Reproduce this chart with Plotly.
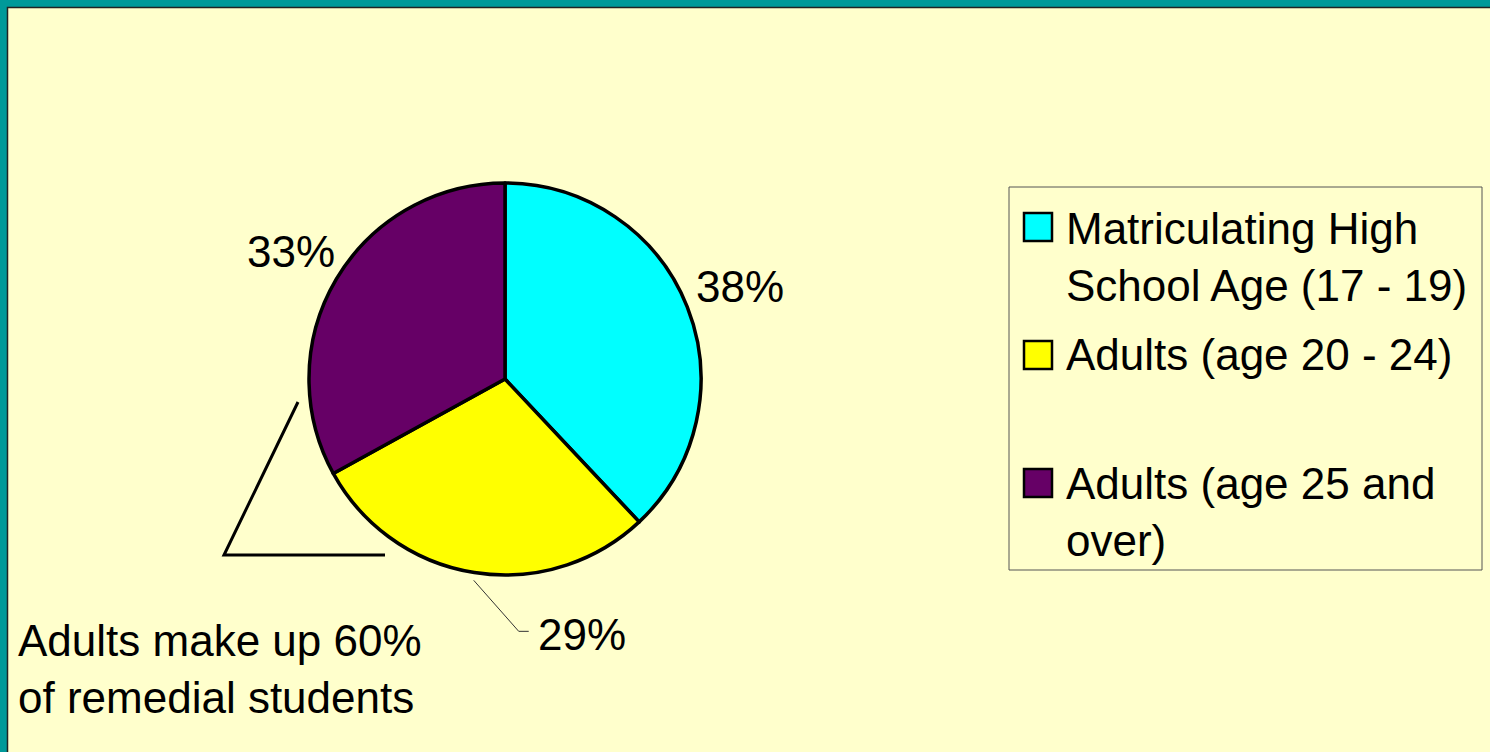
import math
import plotly.graph_objects as go

# ---- data ----
categories = ["Matriculating High<br>School Age (17 - 19)", "Adults (age 20 - 24)", "Adults (age 25 and<br>over)"]
values = [38, 29, 33]
colors = ["#00FFFF", "#FFFF00", "#660066"]
note_text = "Adults make up 60%<br>of remedial students"

W, H = 1490, 752
FONT = "Liberation Sans, Arial, sans-serif"
FS = 44


def px(x):
    return x / W


def py(y):
    return 1 - y / H


# pie geometry (pixels)
CX, CY, R = 505, 379, 196

fig = go.Figure()
fig.add_trace(go.Pie(
    labels=categories,
    values=values,
    marker=dict(colors=colors, line=dict(color="black", width=3.5)),
    sort=False,
    direction="clockwise",
    rotation=0,
    textinfo="none",
    hoverinfo="label+percent",
    showlegend=False,
    domain=dict(x=[px(CX - R), px(CX + R)], y=[py(CY + R), py(CY - R)]),
))

annotations = []
shapes = []

# percent labels placed from data angles
total = sum(values)
cum = 0
label_style = ["plain", "leader", "plain"]
for v, style in zip(values, label_style):
    mid = (cum + v / 2) / total * 2 * math.pi
    cum += v
    pct = f"{round(v / total * 100)}%"
    if style == "plain":
        rr = R * 1.28
        lx = CX + rr * math.sin(mid)
        ly = CY - rr * math.cos(mid)
        annotations.append(dict(x=px(lx + 2), y=py(ly), xref="paper", yref="paper", text=pct,
                                xanchor="center", yanchor="middle",
                                showarrow=False, font=dict(size=FS, color="black", family=FONT)))
    else:
        ex = CX + R * 1.02 * math.sin(mid)
        ey = CY - R * 1.04 * math.cos(mid)
        kx, ky = ex + 45, ey + 51
        shapes.append(dict(type="path", xref="paper", yref="paper",
                           path=f"M {px(ex)} {py(ey)} L {px(kx)} {py(ky)} L {px(kx + 10)} {py(ky)}",
                           line=dict(color="#333333", width=1)))
        annotations.append(dict(x=px(kx + 17), y=py(ky + 3), xref="paper", yref="paper", text=pct,
                                xanchor="left", yanchor="middle", showarrow=False,
                                font=dict(size=FS, color="black", family=FONT)))

# manual legend (box, swatches, labels)
shapes.append(dict(type="rect", xref="paper", yref="paper", x0=px(1009), x1=px(1482), y0=py(570), y1=py(187),
                   line=dict(color="#555555", width=1), fillcolor="rgba(0,0,0,0)"))
swatch_cy = [227, 355, 483]
text_cy = [256.5, 355, 512]
for lab, col, scy, tcy in zip(categories, colors, swatch_cy, text_cy):
    shapes.append(dict(type="rect", xref="paper", yref="paper", x0=px(1024), x1=px(1052),
                       y0=py(scy + 14), y1=py(scy - 14), fillcolor=col, line=dict(color="black", width=2.5)))
    annotations.append(dict(x=px(1064), y=py(tcy), xref="paper", yref="paper", text=lab,
                            xanchor="left", yanchor="middle", align="left", showarrow=False,
                            font=dict(size=FS, color="black", family=FONT)))

# note + bracket
annotations.append(dict(x=px(16), y=py(669), xref="paper", yref="paper", text=note_text,
                        xanchor="left", yanchor="middle", align="left", showarrow=False,
                        font=dict(size=FS, color="black", family=FONT)))
shapes.append(dict(type="path", xref="paper", yref="paper",
                   path=f"M {px(298)} {py(402)} L {px(224)} {py(555)} L {px(385)} {py(555)}",
                   line=dict(color="black", width=3)))

# slide frame (teal strips top and left)
shapes.append(dict(type="rect", xref="paper", yref="paper", x0=0, x1=px(7), y0=0, y1=1,
                   fillcolor="#009999", line=dict(width=0), layer="below"))
shapes.append(dict(type="rect", xref="paper", yref="paper", x0=0, x1=1, y0=py(7), y1=1,
                   fillcolor="#009999", line=dict(width=0), layer="below"))
shapes.append(dict(type="path", xref="paper", yref="paper",
                   path=f"M {px(7.5)} 0 L {px(7.5)} {py(7.5)} L 1 {py(7.5)}",
                   line=dict(color="#222222", width=1.5)))

fig.update_layout(
    width=W, height=H,
    margin=dict(l=0, r=0, t=0, b=0),
    paper_bgcolor="#FFFFCC",
    plot_bgcolor="#FFFFCC",
    shapes=shapes,
    annotations=annotations,
    font=dict(family=FONT, size=FS, color="black"),
)

fig.write_html(
    "out.html",
    config={"displayModeBar": False},
    post_script="document.body.style.margin='0';document.body.style.padding='0';document.body.style.overflow='hidden';",
)
